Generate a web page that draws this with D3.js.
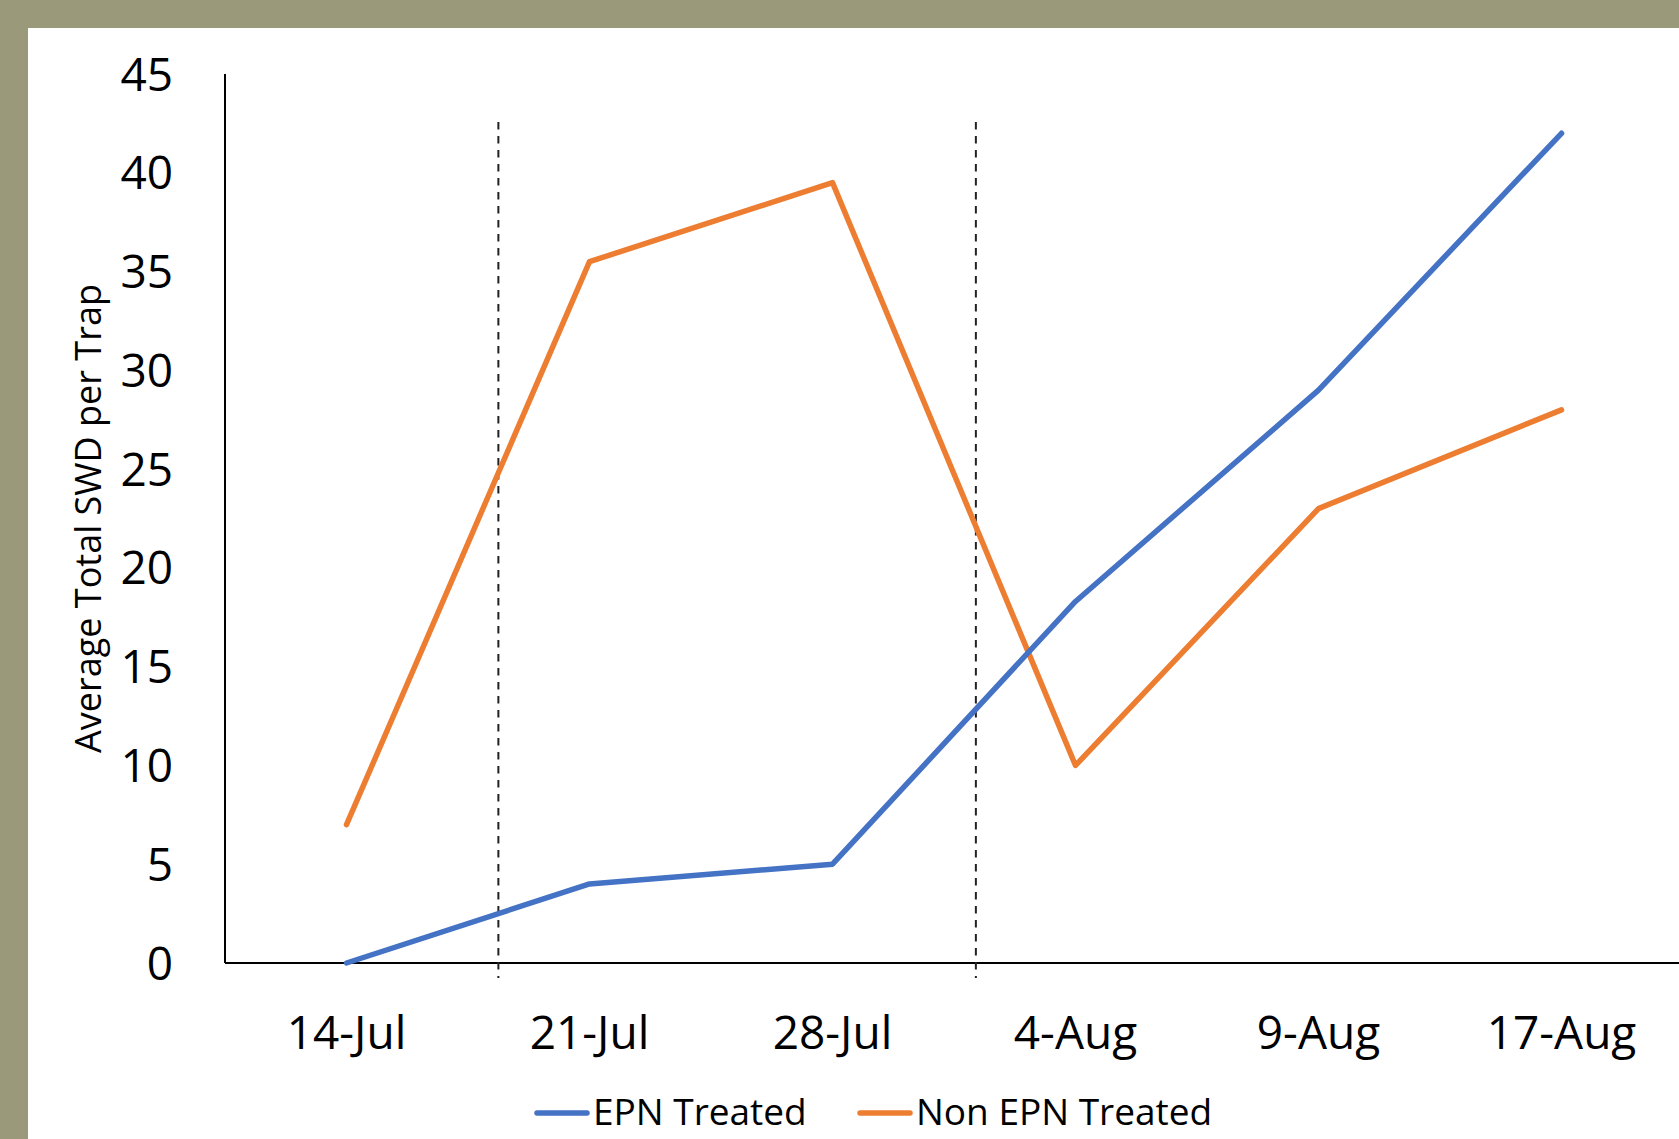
<!DOCTYPE html>
<html>
<head>
<meta charset="utf-8">
<script src="https://cdn.jsdelivr.net/npm/d3@7"></script>
<style>
    html, body { margin: 0; padding: 0; background: #9a9a7a; }
    #plot-area { position: absolute; left: 28px; top: 28px; width: 1651px; height: 1111px; background: #ffffff; }
    svg { position: absolute; left: 0; top: 0; }
</style>
</head>
<body>
<div id="plot-area"></div>
<svg id="chart"></svg>
<script>
// data declaration
const dates = ['14-Jul', '21-Jul', '28-Jul', '4-Aug', '9-Aug', '17-Aug'];
const epnTreated = [0, 4, 5, 18.3, 29, 42];
const nonEpnTreated = [7, 35.5, 39.5, 10, 23, 28];
const yTicks = [0, 5, 10, 15, 20, 25, 30, 35, 40, 45];
// treatment dates, as position between the sampling dates (index units)
const treatments = [0.625, 2.59];

const blue = '#4472C4';
const orange = '#ED7D31';
const font = '"Open Sans", "Noto Sans", sans-serif';

// viewport
let width = 1679,
    height = 1139;

let svg = d3.select('#chart')
    .attr('width', width)
    .attr('height', height);

// Set the ranges
let x = d3.scaleBand().domain(dates).range([225, 225 + 6 * 243]);
let y = d3.scaleLinear().domain([0, 45]).range([963, 74]);
let xi = d3.scaleLinear().domain([0, dates.length - 1])
    .range([x(dates[0]) + x.bandwidth() / 2, x(dates[dates.length - 1]) + x.bandwidth() / 2]);

const valueline = d3.line()
    .x(function (d, i) { return x(dates[i]) + x.bandwidth() / 2; })
    .y(function (d) { return y(d); });

// axis lines
svg.append('line')
    .attr('x1', 225).attr('x2', width)
    .attr('y1', y(0)).attr('y2', y(0))
    .style('stroke', '#000').style('stroke-width', 2);

svg.append('line')
    .attr('x1', 225).attr('x2', 225)
    .attr('y1', y(45)).attr('y2', y(0))
    .style('stroke', '#000').style('stroke-width', 2);

// treatment markers
svg.selectAll('.treat')
    .data(treatments)
    .enter().append('line')
    .attr('class', 'treat')
    .attr('x1', function (d) { return xi(d); })
    .attr('x2', function (d) { return xi(d); })
    .attr('y1', 122)
    .attr('y2', 978)
    .style('stroke', '#222')
    .style('stroke-width', 2)
    .style('stroke-dasharray', '7.5,6.5');

// y tick labels
svg.selectAll('.ytick')
    .data(yTicks)
    .enter().append('text')
    .attr('class', 'ytick')
    .attr('x', 173)
    .attr('y', function (d) { return y(d); })
    .attr('dy', '0.36em')
    .attr('text-anchor', 'end')
    .attr('font-family', font)
    .attr('font-size', '46px')
    .attr('fill', '#000')
    .text(function (d) { return d; });

// x tick labels
svg.selectAll('.xtick')
    .data(dates)
    .enter().append('text')
    .attr('class', 'xtick')
    .attr('x', function (d) { return x(d) + x.bandwidth() / 2; })
    .attr('y', 1049)
    .attr('text-anchor', 'middle')
    .attr('font-family', font)
    .attr('font-size', '46px')
    .attr('fill', '#000')
    .text(function (d) { return d; });

// y axis title
svg.append('text')
    .attr('transform', 'translate(101,518.5) rotate(-90)')
    .attr('text-anchor', 'middle')
    .attr('font-family', font)
    .attr('font-size', '36px')
    .attr('fill', '#000')
    .text('Average Total SWD per Trap');

// lines
svg.append('path')
    .datum(nonEpnTreated)
    .attr('d', valueline)
    .style('fill', 'none')
    .style('stroke', orange)
    .style('stroke-width', 5.5)
    .style('stroke-linecap', 'round')
    .style('stroke-linejoin', 'round');

svg.append('path')
    .datum(epnTreated)
    .attr('d', valueline)
    .style('fill', 'none')
    .style('stroke', blue)
    .style('stroke-width', 5.5)
    .style('stroke-linecap', 'round')
    .style('stroke-linejoin', 'round');

// legend
let legend = svg.selectAll('.legend')
    .data([{name: 'EPN Treated', colour: blue, x: 535}, {name: 'Non EPN Treated', colour: orange, x: 858}])
    .enter().append('g')
    .attr('class', 'legend')
    .attr('transform', function (d) { return 'translate(' + d.x + ',1113)'; });

legend.append('line')
    .attr('x1', 2).attr('x2', 52)
    .attr('y1', 0).attr('y2', 0)
    .style('stroke', function (d) { return d.colour; })
    .style('stroke-width', 5.5)
    .style('stroke-linecap', 'round');

legend.append('text')
    .attr('x', 58)
    .attr('y', 12)
    .attr('font-family', font)
    .attr('font-size', '37px')
    .attr('fill', '#000')
    .text(function (d) { return d.name; });
</script>
</body>
</html>
